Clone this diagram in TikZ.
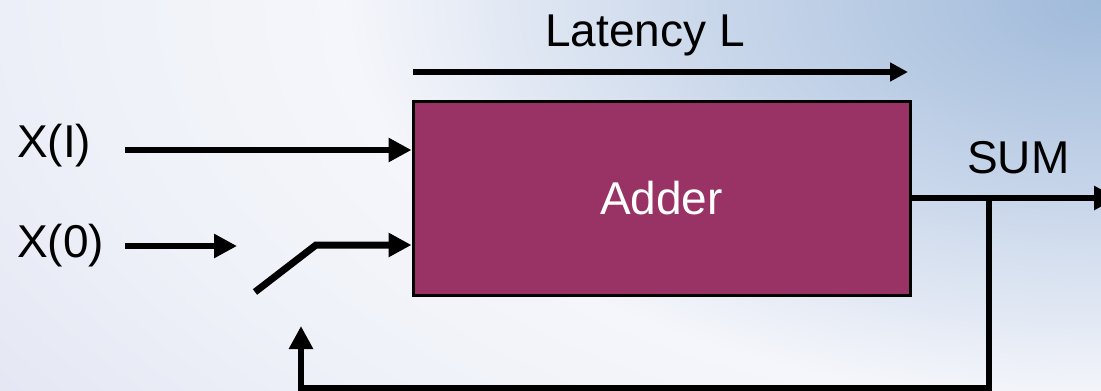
\documentclass[tikz,border=0pt]{standalone}
\usepackage{fontspec}
\setmainfont{Liberation Sans}
\usetikzlibrary{arrows.meta,shadings}
\definecolor{bgbase}{RGB}{238,241,248}
\definecolor{bgwhite}{RGB}{245,246,251}
\definecolor{bgblue}{RGB}{160,186,218}
\definecolor{bgmid}{RGB}{200,214,234}
\definecolor{bglav}{RGB}{228,231,243}
\definecolor{plum}{RGB}{153,51,102}
\pgfdeclareradialshading{bgrad}{\pgfpoint{0bp}{0bp}}{%
  color(0bp)=(bgblue); color(7bp)=(bgmid); color(14bp)=(bgwhite);
  color(19bp)=(bgbase); color(25bp)=(bglav); color(50bp)=(bglav)}
\tikzset{
  lbl/.style={anchor=base west,inner sep=0pt,font=\fontsize{46}{55}\selectfont},
  arr/.style={line width=6.5pt,-{Triangle[length=23pt,width=23pt]}},
  adderbox/.style={draw=black,line width=3pt,fill=plum,text=white,
    minimum width=497pt,minimum height=194pt,inner sep=0pt,
    font=\fontsize{46}{55}\selectfont},
}
\begin{document}
\begin{tikzpicture}[x=1pt,y=-1pt]
\useasboundingbox (0,0) rectangle (1101,391);
% background
\begin{scope}
\clip (0,0) rectangle (1101,391);
\fill[bglav] (0,0) rectangle (1101,391);
\shade[shading=bgrad] (1101,0) ellipse [x radius=1350, y radius=720];
\end{scope}
% nodes
\node[adderbox] (adder) at (661.5,198) {Adder};
\node[lbl] (lat) at (545,46) {Latency L};
\node[lbl] (xi) at (17,157) {X(I)};
\node[lbl] (x0) at (17,257) {X(0)};
\node[lbl] (sum) at (967,173) {SUM};
% coordinates
\coordinate (latA) at (413,72);
\coordinate (latB) at (908,72);
\coordinate (xiA) at (125,150);
\coordinate (x0A) at (125,246);
\coordinate (x0B) at (237,246);
\coordinate (swA) at (255,292);
\coordinate (swB) at (316,245);
\coordinate (outA) at (910,198);
\coordinate (outB) at (1117,198);
\coordinate (fbA) at (989,198);
\coordinate (fbB) at (989,388);
\coordinate (fbC) at (301,388);
\coordinate (fbD) at (301,326);
% connectors
\draw[line width=6pt,-{Triangle[length=18pt,width=18pt]}] (latA) -- (latB);
\draw[arr] (xiA) -- (xiA -| adder.west);
\draw[arr] (x0A) -- (x0B);
\draw[arr,line width=7pt] (swA) -- (swB) -- (swB -| adder.west);
\draw[arr] (adder.east |- outA) -- (outB);
\draw[arr,line width=6pt,line join=miter] (fbA) -- (fbB) -- (fbC) -- (fbD);
\end{tikzpicture}
\end{document}
